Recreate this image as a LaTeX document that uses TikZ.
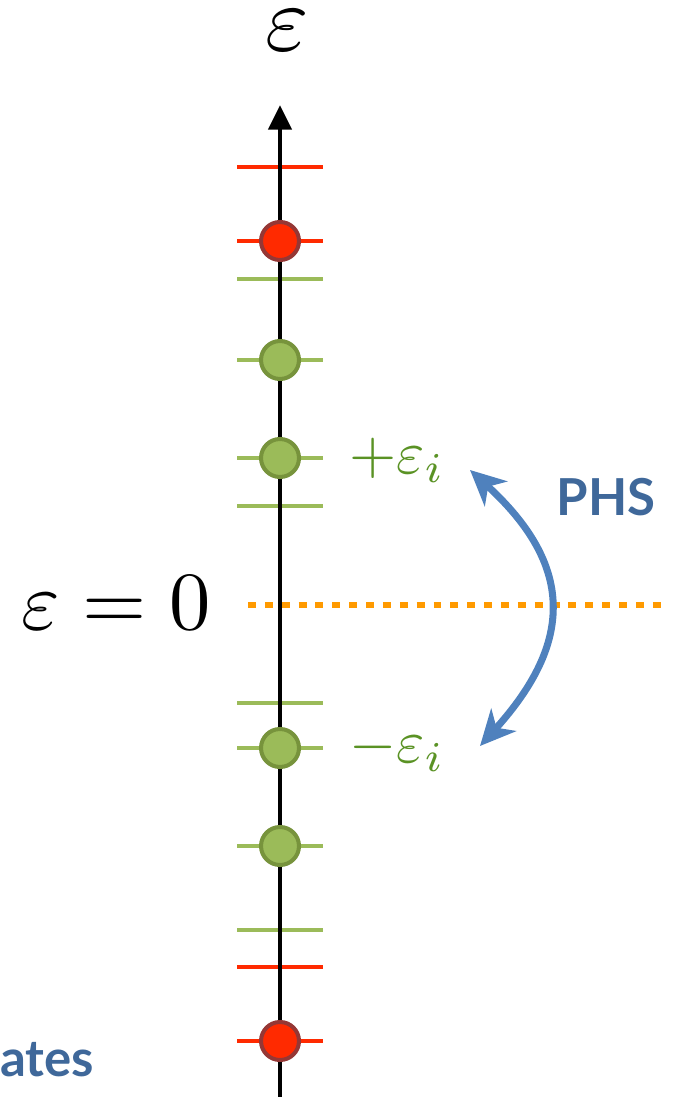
\documentclass[tikz,border=0pt]{standalone}
\usepackage{graphicx}
\usepackage{fontspec}
\newfontfamily\labelfont{Lato}
\usetikzlibrary{arrows.meta}

\definecolor{lvlgreen}{HTML}{9BBB59}
\definecolor{dotgreen}{HTML}{77933C}
\definecolor{lvlred}{HTML}{FF2A00}
\definecolor{dotred}{HTML}{953735}
\definecolor{zeroorange}{HTML}{FF9A00}
\definecolor{phsblue}{HTML}{4F81BD}
\definecolor{textblue}{HTML}{3F689A}
\definecolor{textgreen}{HTML}{5A9224}

\newcommand{\enmath}[2]{\scalebox{#1}{$#2$}}

\tikzset{
  level/.style={line width=2.3pt},
  state/.style={line width=2.3pt},
  smallmath/.style={text=textgreen, anchor=west},
  tag/.style={font=\labelfont\bfseries\fontsize{29}{33}\selectfont, text=textblue}
}

\begin{document}
\begin{tikzpicture}[x=0.02cm, y=-0.02cm]

  \useasboundingbox (0,0) rectangle (673,1097);

  % --- zero line ---
  \draw[zeroorange, line width=3pt, dash pattern=on 4.5pt off 5.1pt]
    (248,605) -- (668,605);

  % --- levels ---
  \foreach \y in {279, 360, 458, 506, 703, 748, 846, 930}
    \draw[level, lvlgreen] (237,\y) -- (323,\y);
  \foreach \y in {167, 241, 967, 1041}
    \draw[level, lvlred] (237,\y) -- (323,\y);

  % --- energy axis ---
  \coordinate (bot) at (280,1097);
  \coordinate (top) at (280,105);
  \draw[line width=2.8pt, -{Triangle[length=14pt, width=13pt]}] (bot) -- (top);
  \node[inner sep=0pt] (eps) at (287,30) {\enmath{5.3}{\varepsilon}};

  % --- occupied states ---
  \foreach \y in {360, 458, 748, 846}
    \filldraw[state, fill=lvlgreen, draw=dotgreen] (280,\y) circle (19);
  \foreach \y in {241, 1041}
    \filldraw[state, fill=lvlred, draw=dotred] (280,\y) circle (19);

  % --- labels ---
  \node (zero) at (116,603) {\enmath{4.7}{\varepsilon = 0}};
  \node[smallmath] (plus) at (343,460) {\enmath{3.45}{+\varepsilon_i}};
  \node[smallmath] (minus) at (343,749) {\enmath{3.45}{-\varepsilon_i}};
  \node[tag] (phs) at (606,497) {PHS};
  \node[tag, anchor=west] (ates) at (-6,1060) {ates};

  % --- particle-hole arrow ---
  \coordinate (up) at (470,470);
  \coordinate (down) at (480,746);
  \draw[phsblue, line width=4pt,
        {Stealth[length=20pt, width=19pt, inset=6pt]}-{Stealth[length=20pt, width=19pt, inset=6pt]}]
    (up) .. controls (574,565) and (574,642) .. (down);

\end{tikzpicture}
\end{document}
